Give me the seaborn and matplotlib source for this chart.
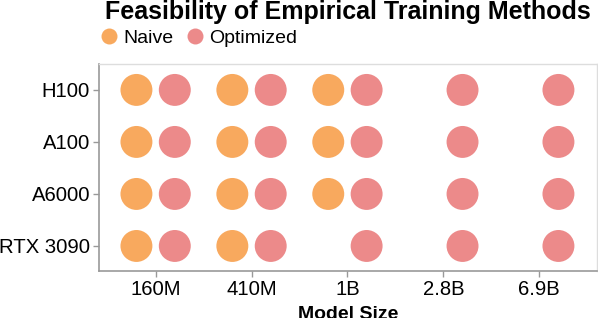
#!/usr/bin/env python3

import pandas
import matplotlib
matplotlib.use("Agg")
import matplotlib.pyplot as plt
from matplotlib.lines import Line2D
import seaborn as sns

sns.set_theme(style="white")
plt.rcParams["font.family"] = ["Liberation Sans", "DejaVu Sans"]
plt.rcParams["text.color"] = "black"
plt.rcParams["axes.labelcolor"] = "black"
plt.rcParams["xtick.labelcolor"] = "black"
plt.rcParams["ytick.labelcolor"] = "black"

model_sizes = ["160M", "410M", "1B", "2.8B", "6.9B"]
gpus = ["H100", "A100", "A6000", "RTX 3090"]
methods = ["Naive", "Optimized"]

# largest model index each method can train on each gpu
naive_max = {"H100": 2, "A100": 2, "A6000": 2, "RTX 3090": 1}
optimized_max = {"H100": 4, "A100": 4, "A6000": 4, "RTX 3090": 4}

colors = {"Naive": "#f8a95e", "Optimized": "#ec8a8a"}


def build_frame():
    rows = []
    for gpu in gpus:
        for i, size in enumerate(model_sizes):
            if i <= naive_max[gpu]:
                rows.append({"Model Size": size, "GPU": gpu, "Method": "Naive"})
            if i <= optimized_max[gpu]:
                rows.append({"Model Size": size, "GPU": gpu, "Method": "Optimized"})
    df = pandas.DataFrame(rows)
    df["Model Size"] = pandas.Categorical(df["Model Size"], categories=model_sizes)
    df["GPU"] = pandas.Categorical(df["GPU"], categories=gpus)
    return df


def main():
    df = build_frame()
    fig = plt.figure(figsize=(5.98, 3.18), dpi=100)
    ax = fig.add_axes([0.1656, 0.148, 0.8324, 0.651])

    sns.stripplot(
        data=df, x="Model Size", y="GPU", hue="Method", hue_order=methods,
        order=model_sizes, palette=colors, dodge=True, jitter=False,
        size=23, linewidth=0, orient="x", legend=False, ax=ax,
    )

    ax.set_xlim(-0.59, 4.6)
    ax.set_ylim(3.48, -0.5)
    ax.set_ylabel("")
    ax.set_xlabel("Model Size", fontsize=14, fontweight="bold", labelpad=5)
    ax.tick_params(axis="both", labelsize=14.6, length=4, width=1,
                   color="#999999", bottom=True, left=True, pad=2.5)
    for side in ["left", "bottom"]:
        ax.spines[side].set_color("#999999")
        ax.spines[side].set_linewidth(1.2)
    for side in ["top", "right"]:
        ax.spines[side].set_color("#dddddd")
        ax.spines[side].set_linewidth(1)

    handles = [
        Line2D([], [], marker="o", linestyle="", markersize=11.5,
               markerfacecolor=colors[m], markeredgewidth=0)
        for m in methods
    ]
    ax.legend(handles, methods, ncol=2, frameon=False, loc="center left",
              bbox_to_anchor=(0.004, 1.126), fontsize=14, borderpad=0,
              handlelength=0.8, handletextpad=0.35, columnspacing=0.7,
              borderaxespad=0)
    fig.text(0.582, 1 - 12 / 318, "Feasibility of Empirical Training Methods",
             fontsize=18, fontweight="bold", ha="center", va="center")

    fig.savefig("out.png", dpi=100)


if __name__ == "__main__":
    main()
